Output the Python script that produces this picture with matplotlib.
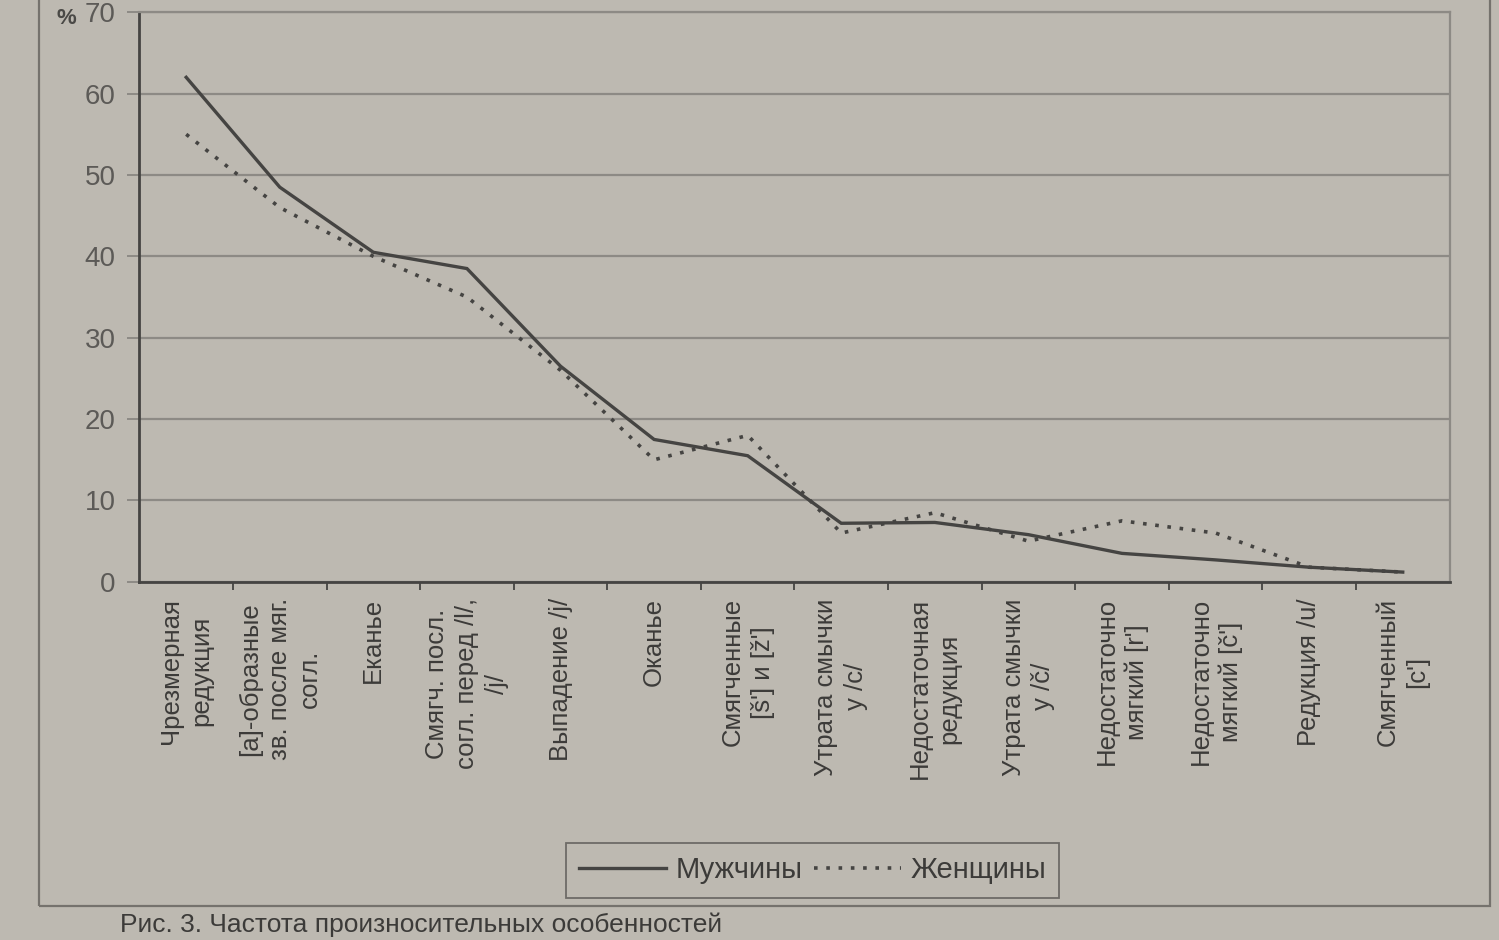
import matplotlib
matplotlib.use("Agg")
import matplotlib.pyplot as plt
from matplotlib.patches import Rectangle

plt.rcParams['font.family'] = ['Liberation Sans', 'DejaVu Sans']

# категории (подписи оси X) и доли, %
categories = [
    "Чрезмерная\nредукция",
    "[а]-образные\nзв. после мяг.\nсогл.",
    "Еканье",
    "Смягч. посл.\nсогл. перед /l/,\n/j/",
    "Выпадение /j/",
    "Оканье",
    "Смягченные\n[š'] и [ž']",
    "Утрата смычки\nу /c/",
    "Недостаточная\nредукция",
    "Утрата смычки\nу /č/",
    "Недостаточно\nмягкий [r']",
    "Недостаточно\nмягкий [č']",
    "Редукция /u/",
    "Смягченный\n[c']",
]
men = [62, 48.5, 40.5, 38.5, 26.5, 17.5, 15.5, 7.2, 7.3, 5.8, 3.5, 2.7, 1.8, 1.2]
women = [55, 46, 40, 35, 26, 15, 18, 6, 8.5, 5, 7.5, 6, 1.8, 1.2]
y_ticks = [0, 10, 20, 30, 40, 50, 60, 70]

paper = '#bdb9b1'
ink = '#454442'
grid_col = '#8d8a85'

fig = plt.figure(figsize=(14.99, 9.4), dpi=100, facecolor=paper)
ax = fig.add_axes([0.093, 0.381, 0.874, 0.606])
ax.set_facecolor(paper)

x = list(range(len(categories)))
ax.plot(x, men, color=ink, lw=2.4, solid_joinstyle='miter', label='Мужчины', zorder=3)
ax.plot(x, women, color=ink, lw=2.6, linestyle=(0, (1, 2.4)), label='Женщины', zorder=3)

ax.set_xlim(-0.5, len(categories) - 0.5)
ax.set_ylim(0, 70)
ax.set_yticks(y_ticks)
ax.yaxis.grid(True, color=grid_col, lw=1.6)
ax.set_axisbelow(True)
ax.tick_params(axis='y', length=9, width=1.4, color=grid_col, pad=8,
               labelsize=20, labelcolor='#5c5a57')

ax.set_xticks(x)
ax.set_xticklabels([])
ax.set_xticks([i - 0.5 for i in range(1, len(categories))], minor=True)
ax.tick_params(axis='x', which='major', length=0)
ax.tick_params(axis='x', which='minor', length=6, width=1.3, color=ink)

for i, lab in enumerate(categories):
    ax.text(i, -2.0, lab, rotation=90, ha='center', va='top', multialignment='center',
            fontsize=18.5, color='#3c3b39', linespacing=1.3, clip_on=False)

for side in ['left', 'bottom']:
    ax.spines[side].set_color(ink)
    ax.spines[side].set_linewidth(2)
for side in ['right', 'top']:
    ax.spines[side].set_color(grid_col)
    ax.spines[side].set_linewidth(1.6)

fig.text(0.038, 0.975, '%', fontsize=16, fontweight='bold', color='#4a4946')

leg = fig.legend(loc='center', bbox_to_anchor=(0.542, 0.074), ncol=2, fontsize=21,
                 handlelength=3.0, columnspacing=0.4, handletextpad=0.3,
                 frameon=True, fancybox=False, borderpad=0.45)
leg.get_frame().set_facecolor(paper)
leg.get_frame().set_edgecolor('#5a5855')
leg.get_frame().set_linewidth(1.3)
for t in leg.get_texts():
    t.set_color('#3c3b39')

# рамка области диаграммы
fig.patches.append(Rectangle((0.026, 0.036), 0.968, 1.0, transform=fig.transFigure,
                             fill=False, edgecolor='#75726d', lw=1.6))

fig.text(0.08, 0.016, 'Рис. 3. Частота произносительных особенностей', fontsize=19,
         color='#3c3b39', va='center')

fig.savefig('out.png', dpi=100, facecolor=paper)
